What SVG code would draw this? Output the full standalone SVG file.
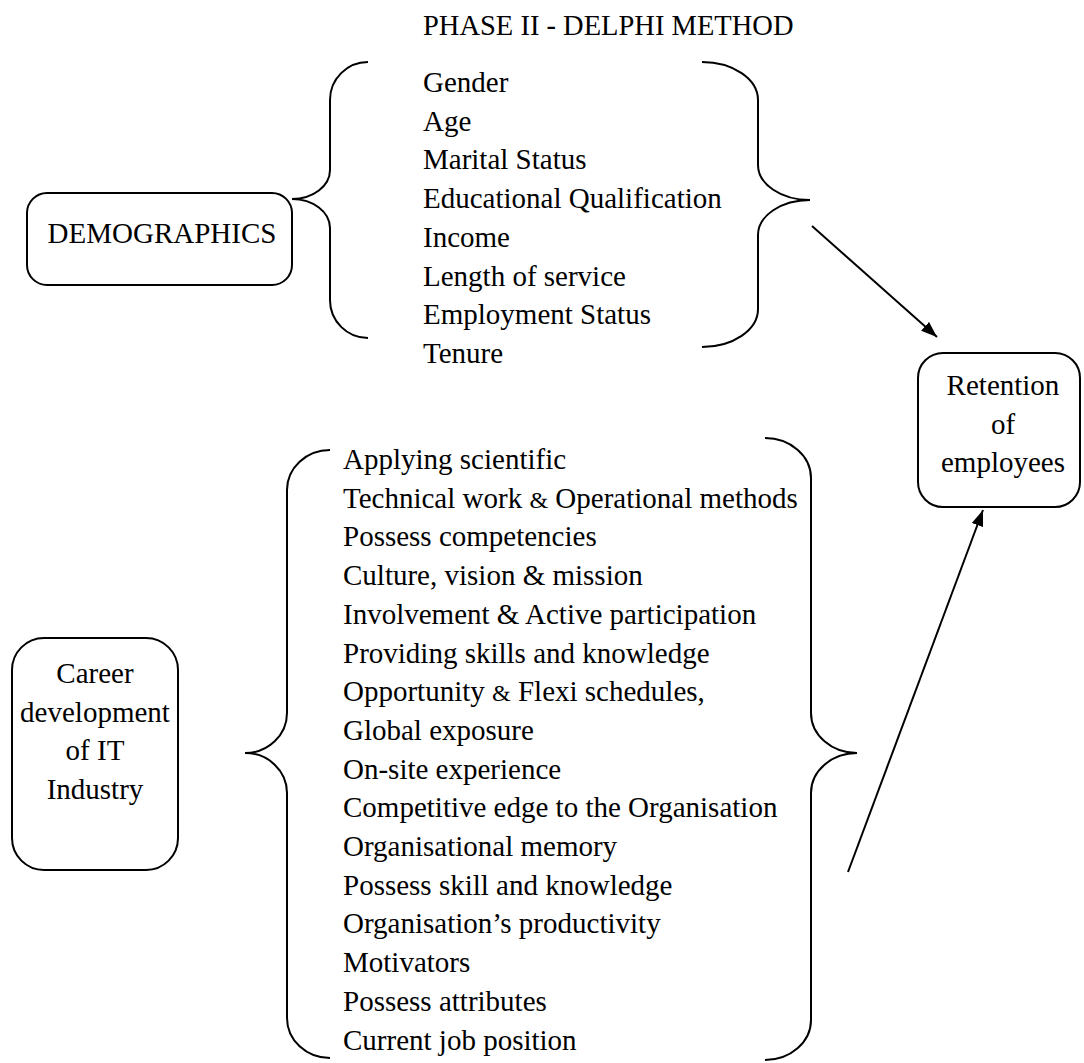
<svg xmlns="http://www.w3.org/2000/svg" width="1084" height="1063" viewBox="0 0 1084 1063">
<style>
text{font-family:"Liberation Serif","Times New Roman",serif;font-size:29px;fill:#000}
.box{fill:#fff;stroke:#000;stroke-width:2}
.brace{fill:none;stroke:#000;stroke-width:2}
.conn{stroke:#000;stroke-width:2;fill:none}
.c{text-anchor:middle}
.amp{font-size:24px}
.title{font-size:28.5px}
</style>
<defs>
<marker id="ah" viewBox="0 0 16 12" refX="16" refY="6" markerWidth="16" markerHeight="12" markerUnits="userSpaceOnUse" orient="auto">
<path d="M0,0 L16,6 L0,12 z" fill="#000"/>
</marker>
</defs>
<text class="title" x="423" y="35">PHASE II - DELPHI METHOD</text>
<g id="demographics">
<rect class="box" x="27" y="193" width="265" height="92" rx="20"/>
<text x="162" y="243" class="c">DEMOGRAPHICS</text>
</g>
<g id="demographic-items">
<path class="brace" d="M368,62 A38,38 0 0 0 330,100 V170 A38,29 0 0 1 292,199 A38,29 0 0 1 330,228 V300 A38,38 0 0 0 368,338"/>
<text x="423" y="92">Gender</text>
<text x="423" y="130.7">Age</text>
<text x="423" y="169.4">Marital Status</text>
<text x="423" y="208.1">Educational Qualification</text>
<text x="423" y="246.8">Income</text>
<text x="423" y="285.5">Length of service</text>
<text x="423" y="324.2">Employment Status</text>
<text x="423" y="362.9">Tenure</text>
<path class="brace" d="M702,62 A56,38 0 0 1 758,100 V165 A52,35 0 0 0 810,200 A52,35 0 0 0 758,235 V309 A56,38 0 0 1 702,347"/>
</g>
<g id="retention">
<rect class="box" x="918" y="353" width="162" height="154" rx="25"/>
<text x="1003" y="395" class="c">Retention</text>
<text x="1003" y="433.5" class="c">of</text>
<text x="1003" y="472" class="c">employees</text>
</g>
<g id="career">
<rect class="box" x="12" y="638" width="166" height="232" rx="32"/>
<text x="95" y="683" class="c">Career</text>
<text x="95" y="721.7" class="c">development</text>
<text x="95" y="760.4" class="c">of IT</text>
<text x="95" y="799.1" class="c">Industry</text>
</g>
<g id="career-items">
<path class="brace" d="M330,450 A43,40 0 0 0 287,490 V713 A42,40 0 0 1 245,753 A42,40 0 0 1 287,793 V1018 A43,40 0 0 0 330,1058"/>
<text x="343" y="469">Applying scientific</text>
<text x="343" y="507.7">Technical work <tspan class="amp">&amp;</tspan> Operational methods</text>
<text x="343" y="546.4">Possess competencies</text>
<text x="343" y="585.1">Culture, vision &amp; mission</text>
<text x="343" y="623.8">Involvement &amp; Active participation</text>
<text x="343" y="662.5">Providing skills and knowledge</text>
<text x="343" y="701.2">Opportunity <tspan class="amp">&amp;</tspan> Flexi schedules,</text>
<text x="343" y="739.9">Global exposure</text>
<text x="343" y="778.6">On-site experience</text>
<text x="343" y="817.3">Competitive edge to the Organisation</text>
<text x="343" y="856">Organisational memory</text>
<text x="343" y="894.7">Possess skill and knowledge</text>
<text x="343" y="933.4">Organisation’s productivity</text>
<text x="343" y="972.1">Motivators</text>
<text x="343" y="1010.8">Possess attributes</text>
<text x="343" y="1049.5">Current job position</text>
<path class="brace" d="M765,438 A46,40 0 0 1 811,478 V713 A46,40 0 0 0 857,753 A46,40 0 0 0 811,793 V1020 A46,40 0 0 1 765,1060"/>
</g>
<g id="connectors">
<line class="conn" x1="812" y1="226" x2="937" y2="337" marker-end="url(#ah)"/>
<line class="conn" x1="848" y1="872" x2="983" y2="510" marker-end="url(#ah)"/>
</g>
</svg>
